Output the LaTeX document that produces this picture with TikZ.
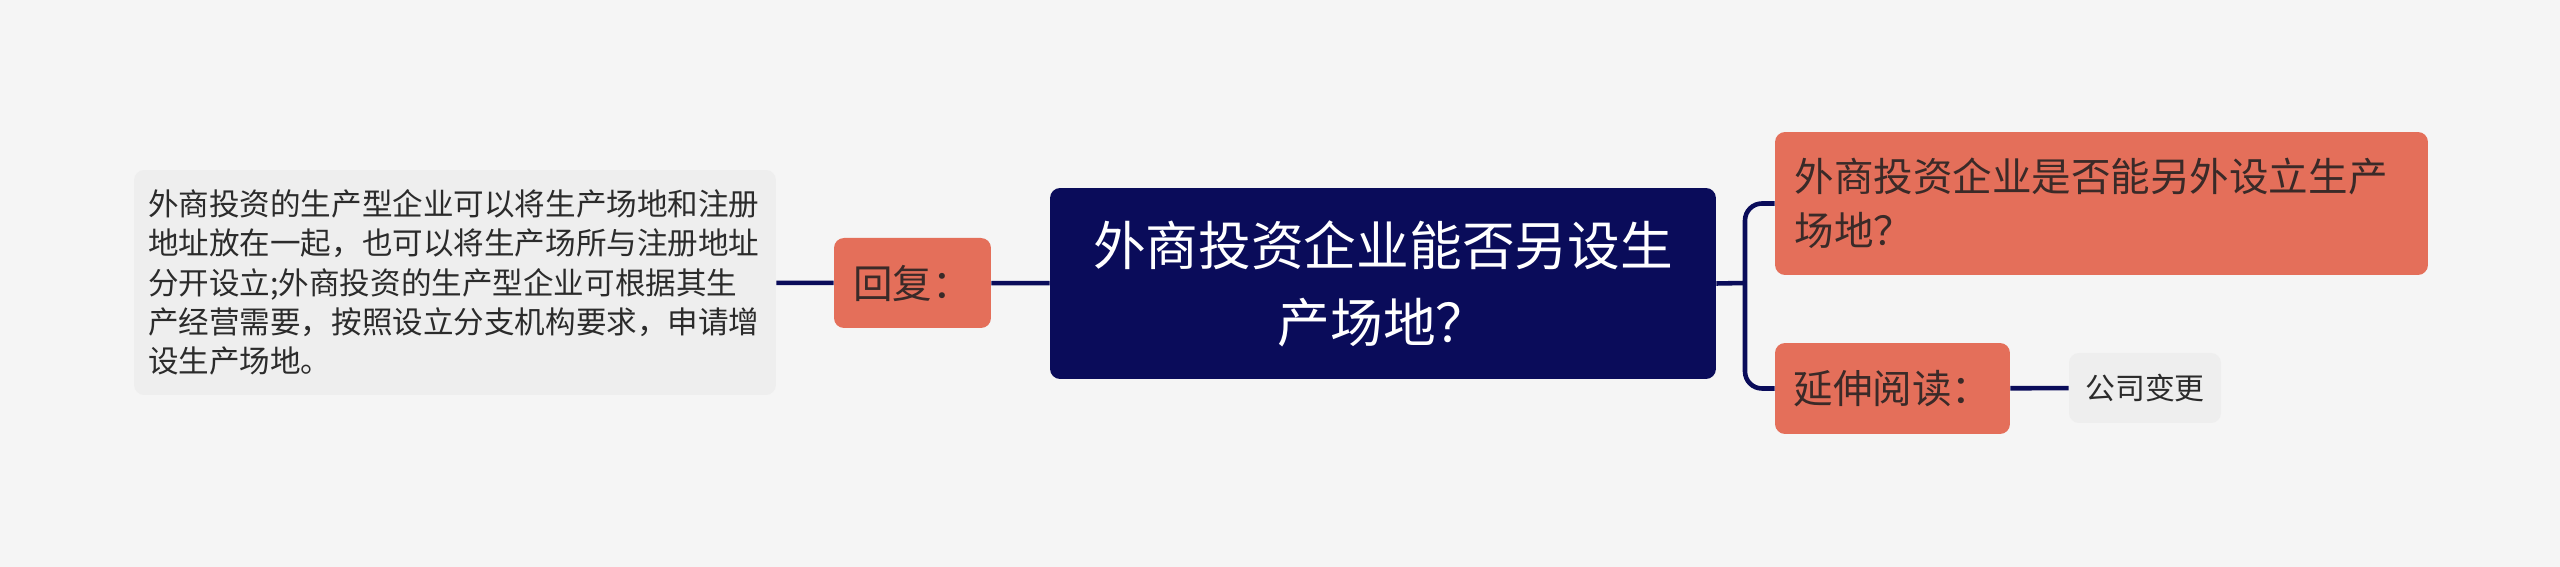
\documentclass[tikz,border=0pt]{standalone}
\usepackage{fontspec}
\setmainfont{Noto Sans CJK SC}
\usepackage{tikz}
\definecolor{navy}{HTML}{0A0C5A}
\definecolor{salmon}{HTML}{E46F5A}
\definecolor{paper}{HTML}{F5F5F5}
\definecolor{card}{HTML}{EEEEEE}
\definecolor{ink}{HTML}{3A2A28}
\definecolor{grayink}{HTML}{2B2B2B}
\tikzset{
  topic/.style={rectangle, rounded corners=0.2cm, fill=salmon, text=ink, inner sep=0pt,
    font=\fontsize{22.5}{30.7}\selectfont},
  card/.style={rectangle, rounded corners=0.2cm, fill=card, text=grayink, inner sep=0pt},
  branch/.style={draw=navy, line width=2.6pt}
}

\begin{document}
\begin{tikzpicture}[x=0.02cm,y=0.02cm]
    \fill[paper] (0,0) rectangle (2560,567);
    \useasboundingbox (0,0) rectangle (2560,567);
    \node[rectangle, rounded corners=0.2cm, fill=navy, text=white, inner sep=0pt,
          minimum width=13.32cm, minimum height=3.82cm, align=center,
          font=\fontsize{30}{43.8}\selectfont] (root) at (1383,283.5)
          {外商投资企业能否另设生\\产场地？};
    \node[topic, minimum width=3.14cm, minimum height=1.8cm] (reply) at (912.5,284) {回复：};
    \node[card, minimum width=12.84cm, minimum height=4.5cm, text width=12.28cm, align=left,
          font=\fontsize{17.4}{22.4}\selectfont] (answer) at (455,284.5)
          {外商投资的生产型企业可以将生产场地和注册\\
           地址放在一起，也可以将生产场所与注册地址\\
           分开设立;外商投资的生产型企业可根据其生\\
           产经营需要，按照设立分支机构要求，申请增\\
           设生产场地。};
    \node[topic, minimum width=13.06cm, minimum height=2.86cm, text width=12.28cm, align=left]
          (question) at (2101.5,363.5) {外商投资企业是否能另外设立生产\\场地？};
    \node[topic, minimum width=4.7cm, minimum height=1.82cm] (more) at (1892.5,178.5) {延伸阅读：};
    \node[card, minimum width=3.04cm, minimum height=1.4cm,
          font=\fontsize{17}{22}\selectfont] (company) at (2145,179) {公司变更};
    \coordinate (fork) at (1745,284);
    % connectors
    \draw[branch] (answer) -- (reply);
    \draw[branch] (reply) -- (root);
    \draw[branch] (root.east) -- (fork);
    \draw[branch, rounded corners=0.34cm] (question.west) -| (fork) |- (more.west);
    \draw[branch] (more) -- (company);
\end{tikzpicture}
\end{document}
